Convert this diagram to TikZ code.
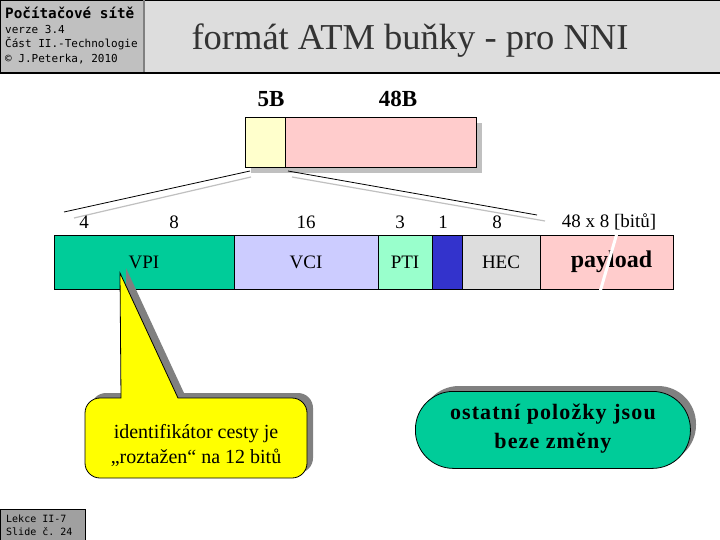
\documentclass[tikz,border=0pt]{standalone}
\usepackage{fontspec}
\setmainfont{Liberation Serif}
\setmonofont{DejaVu Sans Mono}
\definecolor{hdrleft}{HTML}{C0C0C0}
\definecolor{hdrtitle}{HTML}{DDDDDD}
\definecolor{footbox}{HTML}{A0A0A0}
\definecolor{hdryellow}{HTML}{FFFFCC}
\definecolor{cpink}{HTML}{FFCCCC}
\definecolor{cgreen}{HTML}{00CC99}
\definecolor{cviolet}{HTML}{CCCCFF}
\definecolor{cmint}{HTML}{99FFCC}
\definecolor{cblue}{HTML}{3333CC}
\definecolor{cgray}{HTML}{DDDDDD}
\definecolor{shadowlight}{HTML}{C0C0C0}
\definecolor{shadowdark}{HTML}{808080}
\definecolor{titletext}{HTML}{333333}
\definecolor{calloutyellow}{HTML}{FFFF00}
\tikzset{
  field/.style={draw=black, line width=0.8pt, inner sep=0pt, outer sep=0pt, anchor=north west, font=\fontsize{19}{22}\selectfont},
  bitlabel/.style={font=\fontsize{19}{22}\selectfont, inner sep=0pt},
  bytelabel/.style={font=\bfseries\fontsize{23}{27}\selectfont, inner sep=0pt},
  monotext/.style={font=\ttfamily\fontsize{11}{13}\selectfont, anchor=west, inner sep=0pt},
  foottext/.style={font=\ttfamily\fontsize{10}{12}\selectfont, anchor=west, inner sep=0pt},
  zoomline/.style={draw=black, line width=0.8pt},
  zoomshade/.style={draw=shadowlight, line width=1.2pt}
}
\begin{document}
\begin{tikzpicture}[x=1pt,y=-1pt]
\useasboundingbox (0,0) rectangle (720,540);
\fill[white] (0,0) rectangle (720,540);
% header
\node[draw=black, line width=1pt, fill=hdrleft, minimum width=144pt, minimum height=72pt, inner sep=0pt, anchor=north west] (hleft) at (0,0) {};
\node[draw=black, line width=1pt, fill=hdrtitle, minimum width=576pt, minimum height=72pt, inner sep=0pt, anchor=north west] (htitle) at (144,0) {};
\draw[draw=shadowdark, line width=2pt] (htitle.north west) -- (htitle.south west);
\draw[black, line width=2pt] (hleft.south west) -- (htitle.south east);
\node[font=\fontsize{36.5}{42}\selectfont, text=titletext, inner sep=0pt] (title) at (410,41) {formát ATM buňky - pro NNI};
\node[monotext, font=\ttfamily\bfseries\fontsize{14.3}{16}\selectfont] (h1) at (5,13) {Počítačové sítě};
\node[monotext] (h2) at (5,29) {verze 3.4};
\node[monotext] (h3) at (5,44) {Část II.-Technologie};
\node[monotext] (h4) at (5,59) {© J.Peterka, 2010};
% footer
\node[draw=black, line width=0.8pt, fill=footbox, minimum width=85pt, minimum height=31pt, inner sep=0pt, anchor=north west] (foot) at (0,509) {};
\node[foottext] (f1) at (6,519) {Lekce II-7};
\node[foottext] (f2) at (6,532) {Slide č. 24};
% top cell
\fill[shadowlight] (251,123) rectangle (482,173);
\node[field, fill=hdryellow, minimum width=40pt, minimum height=50pt] (hdr) at (245,117) {};
\node[field, fill=cpink, minimum width=191pt, minimum height=50pt] (pay) at (285,117) {};
\node[bytelabel] (l5b) at (271,99) {5B};
\node[bytelabel] (l48b) at (398,99) {48B};
% zoom lines
\coordinate (zl1) at (250,171); \coordinate (zl2) at (64,212);
\coordinate (zl3) at (251,177); \coordinate (zl4) at (74,218);
\coordinate (zr1) at (288,171); \coordinate (zr2) at (537,215);
\coordinate (zr3) at (292,177); \coordinate (zr4) at (545,221);
\draw[zoomshade] (zl3) -- (zl4);
\draw[zoomshade] (zr3) -- (zr4);
\draw[zoomline] (zl1) -- (zl2);
\draw[zoomline] (zr1) -- (zr2);
% bit labels
\node[bitlabel] (b4) at (84,222) {4};
\node[bitlabel] (b8a) at (174,222) {8};
\node[bitlabel] (b16) at (306,222) {16};
\node[bitlabel] (b3) at (400,222) {3};
\node[bitlabel] (b1) at (443,222) {1};
\node[bitlabel] (b8b) at (497,222) {8};
\node[bitlabel] (b48) at (609,222) {48 x 8 [bitů]};
% fields
\node[field, fill=cgreen, minimum width=180pt, minimum height=54pt] (vpi) at (54,235) {VPI};
\node[field, fill=cviolet, minimum width=144pt, minimum height=54pt] (vci) at (234,235) {VCI};
\node[field, fill=cmint, minimum width=54pt, minimum height=54pt] (pti) at (378,235) {PTI};
\node[field, fill=cblue, minimum width=30pt, minimum height=54pt] (clp) at (432,235) {};
\node[field, fill=cgray, minimum width=78pt, minimum height=54pt] (hec) at (462,235) {HEC};
\node[field, fill=cpink, minimum width=133pt, minimum height=54pt, font=\bfseries\fontsize{24}{28}\selectfont] (payload) at (540,235) {\hspace*{10pt}payload};
\draw[white, line width=3pt] (617,233) -- (600,292);
% callout
\begin{scope}[shift={(6,-5)}]
\fill[shadowdark] (200,398) [rounded corners=15pt] -- (307,398) -- (307,478) -- (85,478) -- (85,398) [sharp corners] -- (121,398) -- (120,273) -- (178,398) -- cycle;
\end{scope}
\filldraw[fill=calloutyellow, draw=black, line width=0.8pt] (200,398) [rounded corners=15pt] -- (307,398) -- (307,478) -- (85,478) -- (85,398) [sharp corners] -- (121,398) -- (120,273) -- (178,398) -- cycle;
\node[font=\fontsize{20}{25}\selectfont, align=center, inner sep=0pt] (callout) at (196,445) {identifikátor cesty je\\„roztažen“ na 12 bitů};
% stadium
\fill[shadowdark, rounded corners=38pt] (421,386) rectangle (696,463);
\node[draw=black, line width=0.8pt, fill=cgreen, rounded corners=38pt, minimum width=275pt, minimum height=77pt, inner sep=0pt, anchor=north west] (other) at (415,391) {};
\node[font=\bfseries\fontsize{22}{29}\selectfont\addfontfeature{LetterSpace=5}, align=center, inner sep=0pt] (othertext) at ([yshift=1pt]other.center) {ostatní položky jsou\\beze změny};
\end{tikzpicture}
\end{document}
